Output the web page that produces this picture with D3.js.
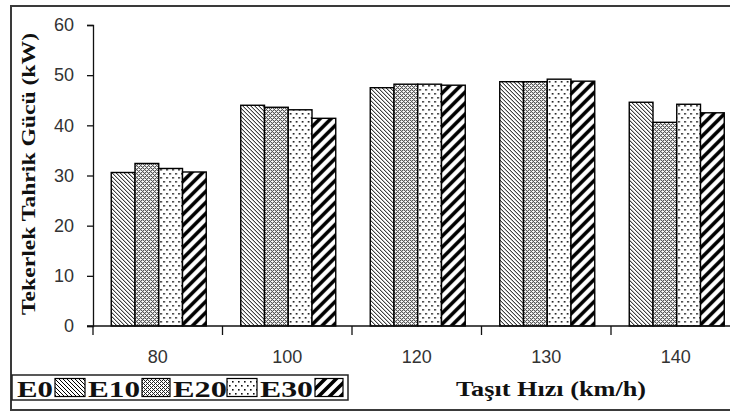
<!DOCTYPE html>
<html><head><meta charset="utf-8">
<script src="https://cdn.jsdelivr.net/npm/d3@7"></script>
<style>html,body{margin:0;padding:0;background:#fff}svg{display:block}</style>
</head><body><svg id="c" width="730" height="415"></svg>
<script>
const categories = ["80", "100", "120", "130", "140"];
const seriesNames = ["E0", "E10", "E20", "E30"];
const E0  = [30.6, 44.0, 47.5, 48.7, 44.6];
const E10 = [32.4, 43.6, 48.2, 48.7, 40.6];
const E20 = [31.4, 43.1, 48.2, 49.2, 44.2];
const E30 = [30.7, 41.4, 48.0, 48.8, 42.5];
const yTicks = [0, 10, 20, 30, 40, 50, 60];
const xTitle = "Taşıt Hızı (km/h)";
const yTitle = "Tekerlek Tahrik Gücü (kW)";

const seriesValues = [E0, E10, E20, E30];
const svg = d3.select("#c");
const defs = svg.append("defs");

function pixPattern(id, w, h, cells, fill) {
  const p = defs.append("pattern").attr("id", id).attr("patternUnits", "userSpaceOnUse")
    .attr("width", w).attr("height", h);
  p.append("rect").attr("width", w).attr("height", h).attr("fill", "#fff");
  cells.forEach(c => p.append("rect").attr("x", c[0]).attr("y", c[1])
    .attr("width", c[2] || 1).attr("height", c[3] || 1).attr("fill", fill || "#000"));
  return p;
}
pixPattern("pE0", 4, 4, [[0,0],[1,1],[2,2],[3,3]]);
pixPattern("pE10", 4, 4, [[0,0],[1,1],[2,2],[3,3],[0,2],[2,0]], "#222");
pixPattern("pE20", 6, 8, [[1,1,1.6,1.6],[4,5,1.6,1.6]], "#111");
{
  const p = defs.append("pattern").attr("id", "pE30").attr("patternUnits", "userSpaceOnUse")
    .attr("width", 11).attr("height", 11);
  p.append("rect").attr("width", 11).attr("height", 11).attr("fill", "#fff");
  p.append("path").attr("d", "M-3,3 L3,-3 M0,11 L11,0 M8,14 L14,8")
    .attr("stroke", "#000").attr("stroke-width", 3.6);
}
const fills = ["url(#pE0)", "url(#pE10)", "url(#pE20)", "url(#pE30)"];

svg.append("rect").attr("x", 11).attr("y", 6).attr("width", 760).attr("height", 404)
  .attr("fill", "none").attr("stroke", "#3a3a3a").attr("stroke-width", 2);

const x0 = d3.scaleBand().domain(categories).range([93, 93 + 5 * 129.5]).padding(0);
const groupW = 95;
const x1 = d3.scaleBand().domain(seriesNames).range([0, groupW]).padding(0);
const y = d3.scaleLinear().domain([0, 60]).range([326, 25]);

const groups = svg.append("g").selectAll("g").data(categories).join("g")
  .attr("transform", d => `translate(${x0(d) + (x0.bandwidth() - groupW) / 2 + 1},0)`);
groups.selectAll("rect").data((d, i) => seriesNames.map((s, j) => ({ s, j, v: seriesValues[j][i] })))
  .join("rect")
  .attr("x", d => x1(d.s))
  .attr("y", d => y(d.v))
  .attr("width", x1.bandwidth())
  .attr("height", d => y(0) - y(d.v))
  .attr("fill", d => fills[d.j])
  .attr("stroke", "#000").attr("stroke-width", 1.4);

const yAxis = svg.append("g").attr("transform", "translate(93,0)")
  .call(d3.axisLeft(y).tickValues(yTicks).tickSize(6).tickPadding(13));
yAxis.select(".domain").attr("stroke", "#111").attr("stroke-width", 1.3);
yAxis.selectAll(".tick line").attr("stroke", "#111").attr("stroke-width", 1.3);
yAxis.selectAll("text").attr("font-family", "Liberation Sans, Arial, sans-serif")
  .attr("font-size", 18).attr("fill", "#333");

const xAxis = svg.append("g").attr("transform", "translate(0,326)")
  .call(d3.axisBottom(x0).tickSize(0).tickPadding(24));
xAxis.select(".domain").remove();
svg.append("line").attr("x1", 87).attr("x2", 745).attr("y1", 326).attr("y2", 326)
  .attr("stroke", "#111").attr("stroke-width", 1.3);
svg.append("g").selectAll("line").data(categories).join("line")
  .attr("x1", d => x0(d)).attr("x2", d => x0(d)).attr("y1", 326).attr("y2", 335)
  .attr("stroke", "#111").attr("stroke-width", 1.3);
xAxis.selectAll("text").attr("font-family", "Liberation Sans, Arial, sans-serif")
  .attr("font-size", 18).attr("fill", "#333");

svg.append("text").attr("x", 551).attr("y", 396).attr("text-anchor", "middle")
  .attr("font-family", "Liberation Serif, Times New Roman, serif").attr("font-weight", "bold")
  .attr("font-size", 21).attr("fill", "#111")
  .attr("textLength", 190).attr("lengthAdjust", "spacingAndGlyphs").text(xTitle);
svg.append("text").attr("transform", "translate(35,174) rotate(-90)").attr("text-anchor", "middle")
  .attr("font-family", "Liberation Serif, Times New Roman, serif").attr("font-weight", "bold")
  .attr("font-size", 19).attr("fill", "#111")
  .attr("textLength", 282).attr("lengthAdjust", "spacingAndGlyphs").text(yTitle);

const lg = svg.append("g");
lg.append("rect").attr("x", 12).attr("y", 375).attr("width", 336).attr("height", 25)
  .attr("fill", "#fff").attr("stroke", "#222").attr("stroke-width", 1.5);
const legendText = [[17, 36], [88, 52], [173, 54], [260, 53]];
const legendSw = [[55, 30], [142, 28], [227, 30], [315, 28]];
seriesNames.forEach((s, i) => {
  lg.append("text").attr("x", legendText[i][0]).attr("y", 397)
    .attr("font-family", "Liberation Serif, Times New Roman, serif").attr("font-weight", "bold")
    .attr("font-size", 23).attr("fill", "#111")
    .attr("textLength", legendText[i][1]).attr("lengthAdjust", "spacingAndGlyphs").text(s);
  lg.append("rect").attr("x", legendSw[i][0]).attr("y", 378.5).attr("width", legendSw[i][1]).attr("height", 18)
    .attr("fill", fills[i]).attr("stroke", "#000").attr("stroke-width", 1.2);
});
</script></body></html>
